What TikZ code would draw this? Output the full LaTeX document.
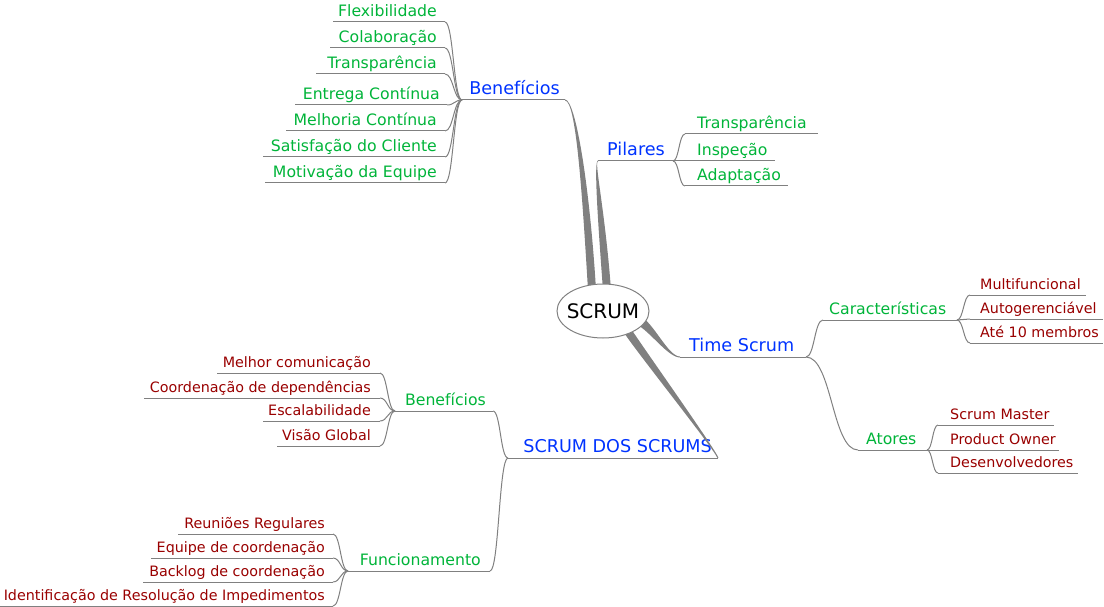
\documentclass[tikz,border=0pt]{standalone}
\usepackage{fontspec}
\setmainfont{DejaVu Sans}
\usetikzlibrary{calc,shapes.geometric}
\definecolor{lone}{HTML}{0033FF}
\definecolor{ltwo}{HTML}{00B439}
\definecolor{lthree}{HTML}{990000}
\definecolor{edgec}{HTML}{808080}
\tikzset{
  x=1pt,y=-1pt,
  edge/.style={draw=edgec, line width=1pt},
  lvlone/.style={text=lone, font=\fontsize{17.6}{20}\selectfont, inner sep=0pt},
  lvltwo/.style={text=ltwo, font=\fontsize{15.7}{18}\selectfont, inner sep=0pt},
  lvlthree/.style={text=lthree, font=\fontsize{14.3}{17}\selectfont, inner sep=0pt},
  rootnode/.style={inner sep=0pt, font=\fontsize{20}{24}\selectfont},
  rootshape/.style={draw=edgec, line width=1pt, fill=white},
}
% curved connector from one named point to another
\newcommand\conn[2]{\draw[edge] let \p1=(#1), \p2=(#2) in (\p1) .. controls ({0.5*\x1+0.5*\x2},\y1) and ({0.5*\x1+0.5*\x2},\y2) .. (\p2);}
% item on the left side: style, name, text, underline left x, underline right x, underline y, text right x
\newcommand\litem[7]{%
  \node[#1, anchor=base east] (#2) at (#7,#6-5.5) {#3};
  \coordinate (#2-l) at (#4,#6); \coordinate (#2-r) at (#5,#6);
  \draw[edge] (#2-l) -- (#2-r);}
% item on the right side: style, name, text, underline left x, underline right x, underline y, text left x
\newcommand\ritem[7]{%
  \node[#1, anchor=base west] (#2) at (#7,#6-5.5) {#3};
  \coordinate (#2-l) at (#4,#6); \coordinate (#2-r) at (#5,#6);
  \draw[edge] (#2-l) -- (#2-r);}
% tapered thick edge: P0 (wide end), P1, P2, P3 (thin end), half widths
\newcommand\taper[6]{%
  \fill[edgec] ($(#1)!#5!90:(#2)$) .. controls ($(#2)!#5!-90:(#1)$) and ($(#3)!#6!90:(#4)$) .. ($(#4)!#6!-90:(#3)$)
    -- ($(#4)!#6!90:(#3)$) .. controls ($(#3)!#6!-90:(#4)$) and ($(#2)!#5!90:(#1)$) .. ($(#1)!#5!-90:(#2)$) -- cycle;}

\begin{document}
\begin{tikzpicture}
\useasboundingbox (0,0) rectangle (1104,607);

% ---------- Benefícios (top left) ----------
\litem{lvlone}{ben}{Benefícios}{462}{565}{100}{560}
\litem{lvltwo}{flex}{Flexibilidade}{333}{445}{22}{437}
\litem{lvltwo}{colab}{Colaboração}{330}{445}{48}{437}
\litem{lvltwo}{transpA}{Transparência}{316}{445}{74}{437}
\litem{lvltwo}{entrega}{Entrega Contínua}{295}{447}{105}{440}
\litem{lvltwo}{melhoria}{Melhoria Contínua}{286}{445}{131}{437}
\litem{lvltwo}{satisf}{Satisfação do Cliente}{263}{445}{157}{437}
\litem{lvltwo}{motiv}{Motivação da Equipe}{265}{445}{183}{437}
\foreach \nm in {flex,colab,transpA,entrega,melhoria,satisf,motiv}{\conn{\nm-r}{ben-l}}

% ---------- Pilares ----------
\ritem{lvlone}{pil}{Pilares}{598}{673}{161}{607}
\ritem{lvltwo}{transpB}{Transparência}{685}{818}{134}{697}
\ritem{lvltwo}{insp}{Inspeção}{685}{775}{161}{697}
\ritem{lvltwo}{adapt}{Adaptação}{685}{788}{186}{697}
\foreach \nm in {transpB,insp,adapt}{\conn{pil-r}{\nm-l}}

% ---------- Time Scrum ----------
\ritem{lvlone}{time}{Time Scrum}{680}{806}{357}{689}
\ritem{lvltwo}{carac}{Características}{823}{957}{320}{829}
\ritem{lvltwo}{atores}{Atores}{858}{927}{450}{866}
\conn{time-r}{carac-l}
\conn{time-r}{atores-l}
\ritem{lvlthree}{multi}{Multifuncional}{970}{1086}{295}{980}
\ritem{lvlthree}{autog}{Autogerenciável}{970}{1103}{319}{980}
\ritem{lvlthree}{ate}{Até 10 membros}{970}{1103}{343}{980}
\foreach \nm in {multi,autog,ate}{\conn{carac-r}{\nm-l}}
\ritem{lvlthree}{sm}{Scrum Master}{938}{1054}{425}{950}
\ritem{lvlthree}{po}{Product Owner}{938}{1059}{450}{950}
\ritem{lvlthree}{dev}{Desenvolvedores}{938}{1078}{473}{950}
\foreach \nm in {sm,po,dev}{\conn{atores-r}{\nm-l}}

% ---------- SCRUM DOS SCRUMS ----------
\litem{lvlone}{sds}{SCRUM DOS SCRUMS}{508}{718}{458}{712}
\litem{lvltwo}{benB}{Benefícios}{395}{493}{411}{486}
\litem{lvltwo}{func}{Funcionamento}{348}{490}{571}{481}
\conn{benB-r}{sds-l}
\conn{func-r}{sds-l}
\litem{lvlthree}{melhor}{Melhor comunicação}{217}{380}{373}{371}
\litem{lvlthree}{coord}{Coordenação de dependências}{144}{380}{398}{371}
\litem{lvlthree}{escal}{Escalabilidade}{263}{380}{421}{371}
\litem{lvlthree}{visao}{Visão Global}{277}{380}{446}{371}
\foreach \nm in {melhor,coord,escal,visao}{\conn{\nm-r}{benB-l}}
\litem{lvlthree}{reun}{Reuniões Regulares}{178}{333}{534}{325}
\litem{lvlthree}{equipe}{Equipe de coordenação}{151}{333}{558}{325}
\litem{lvlthree}{backlog}{Backlog de coordenação}{143}{333}{582}{325}
\litem{lvlthree}{ident}{Identificação de Resolução de Impedimentos}{0}{333}{606}{325}
\foreach \nm in {reun,equipe,backlog,ident}{\conn{\nm-r}{func-l}}

% ---------- thick edges from root ----------
\coordinate (r1a) at (592,290); \coordinate (r1b) at (586,190); \coordinate (r1c) at (576,100);
\taper{r1a}{r1b}{r1c}{ben-r}{4pt}{0.5pt}
\coordinate (r2a) at (607,290); \coordinate (r2b) at (601,210); \coordinate (r2c) at (594,161);
\taper{r2a}{r2b}{r2c}{pil-l}{4pt}{0.5pt}
\coordinate (r3a) at (638,320); \coordinate (r3b) at (652,327); \coordinate (r3c) at (668,357);
\taper{r3a}{r3b}{r3c}{time-l}{4.5pt}{0.5pt}
\coordinate (r4a) at (627,330); \coordinate (r4b) at (640,350); \coordinate (r4c) at (714,448);
\taper{r4a}{r4b}{r4c}{sds-r}{4pt}{0.5pt}

\coordinate (rootc) at (603,311);
\draw[rootshape] (rootc) ellipse [x radius=46, y radius=27];
\node[rootnode] (root) at (rootc) {SCRUM};
\end{tikzpicture}
\end{document}
